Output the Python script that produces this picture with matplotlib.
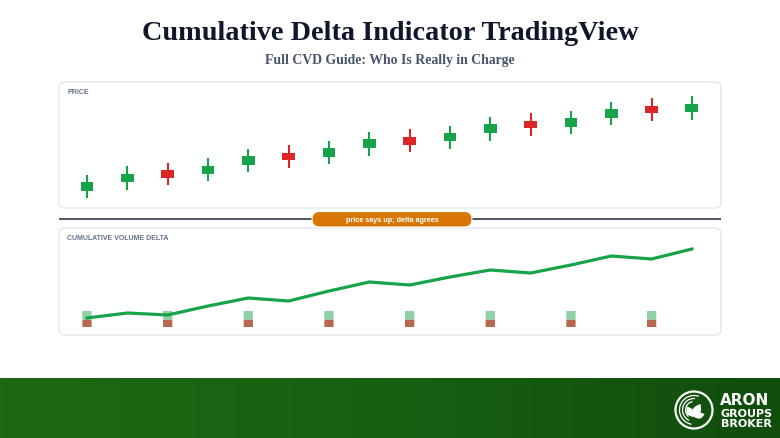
"""
Cumulative Delta (CVD) chart: price candles on top, CVD line below
"""

import numpy as np
import matplotlib.pyplot as plt
from matplotlib.patches import FancyBboxPatch, Circle, Arc, Polygon
from matplotlib.colors import LinearSegmentedColormap

# candle data (arbitrary price units)
opens = [28, 37, 49, 45, 54, 66, 62, 71, 82, 78, 86, 98, 92, 101, 113, 107]
closes = [37, 45, 41, 53, 63, 59, 71, 80, 74, 86, 95, 91, 101, 110, 106, 115]
highs = [44, 53, 56, 61, 70, 74, 78, 87, 90, 93, 102, 106, 108, 117, 121, 123]
lows = [21, 29, 34, 38, 47, 51, 55, 63, 67, 70, 78, 83, 85, 94, 98, 99]

# cumulative volume delta
cvd = [17, 22, 20, 29, 37, 34, 44, 53, 50, 58, 65, 62, 70, 79, 76, 86]

# volume bars (every second bar)
vol_idx = [0, 2, 4, 6, 8, 10, 12, 14]
buy_vol = [8.5, 8.5, 8.5, 8.5, 8.5, 8.5, 8.5, 8.5]
sell_vol = [7.5, 7.5, 7.5, 7.5, 7.5, 7.5, 7.5, 7.5]

title = "Cumulative Delta Indicator TradingView"
subtitle = "Full CVD Guide: Who Is Really in Charge"
badge = "price says up; delta agrees"

GREEN = "#16a34a"
RED = "#dc2626"
W, H = 780, 439

fig = plt.figure(figsize=(W / 100, H / 100), dpi=100)
fig.patch.set_facecolor("white")

# background layer in pixel coordinates
bg = fig.add_axes([0, 0, 1, 1])
bg.axis("off")


def panel(x0, y0, x1, y1):
    bg.add_patch(FancyBboxPatch((x0, y0), x1 - x0, y1 - y0,
                                boxstyle="round,pad=0,rounding_size=6",
                                facecolor="white", edgecolor="#e2e8f0", lw=1.0))


def leaf(x0, y0, length, width, angle):
    # simple pointed leaf polygon
    t = np.linspace(0, 1, 30)
    half = width / 2 * np.sin(np.pi * t)
    xs = np.concatenate([t * length, (t * length)[::-1]])
    ys = np.concatenate([half, -half[::-1]])
    a = np.radians(angle)
    px = x0 + xs * np.cos(a) - ys * np.sin(a)
    py = y0 - (xs * np.sin(a) + ys * np.cos(a))
    bg.add_patch(Polygon(np.column_stack([px, py]), closed=True,
                         facecolor="white", edgecolor="none", zorder=3))


panel(59, 83, 721, 209)
panel(59, 229, 721, 336)

bg.text(W / 2, 33, title, ha="center", va="center", fontsize=20.3,
        fontweight="bold", family="Liberation Serif", color="#0f172a")
bg.text(W / 2, 60.5, subtitle, ha="center", va="center", fontsize=9.9,
        fontweight="bold", family="Liberation Serif", color="#475569")

bg.text(67, 93, "PRICE", ha="left", va="center", fontsize=5,
        fontweight="bold", family="Liberation Sans", color="#64748b")
bg.text(67, 239, "CUMULATIVE VOLUME DELTA", ha="left", va="center", fontsize=5,
        fontweight="bold", family="Liberation Sans", color="#64748b")

# divider + badge
bg.plot([59, 721], [220, 220], color="#3f4856", lw=1.3,
        solid_capstyle="butt", zorder=2)
bg.add_patch(FancyBboxPatch((312, 212.5), 160, 15.5,
                            boxstyle="round,pad=0,rounding_size=7.7",
                            facecolor="#d97706", edgecolor="white", lw=0.8,
                            zorder=3))
bg.text(392, 220.5, badge, ha="center", va="center", fontsize=5.2,
        fontweight="bold", family="Liberation Sans", color="white", zorder=4)

# footer band
grad = np.linspace(0, 1, 256).reshape(1, -1)
cmap = LinearSegmentedColormap.from_list("foot", ["#1b6a13", "#176012", "#114d0d"])
bg.imshow(grad, extent=[0, W, H, 379], cmap=cmap, aspect="auto", zorder=1)
bg.set_xlim(0, W)
bg.set_ylim(H, 0)

# logo
cx, cy = 694, 411
bg.add_patch(Circle((cx, cy), 18.5, facecolor="none", edgecolor="white",
                    lw=1.6, zorder=3))
for r, t1, t2 in [(14.5, 100, 290), (11.5, 115, 275), (8.5, 130, 260)]:
    bg.add_patch(Arc((cx, cy), 2 * r, 2 * r, theta1=t1, theta2=t2,
                     color="white", lw=0.9, zorder=3))
leaf(cx - 1, cy + 7, 15, 8, 60)
leaf(cx - 1, cy + 7, 12, 7, 120)
leaf(cx, cy + 7, 11, 6, 15)

bg.text(720, 405, "ARON", ha="left", va="baseline", fontsize=11,
        fontweight="bold", family="DejaVu Sans", color="white", zorder=3)
bg.text(720.5, 427, "GROUPS\nBROKER", ha="left", va="baseline", fontsize=8,
        fontweight="bold", family="DejaVu Sans", color="white",
        linespacing=1.05, zorder=3)

# x positions shared by both panels
x = np.arange(len(opens))
step = 40.33
x_lo = (59 - 87) / step
x_hi = (721 - 87) / step

# price panel
ax1 = fig.add_axes([59 / W, 1 - 209 / H, 662 / W, 126 / H])
ax1.patch.set_alpha(0)
ax1.axis("off")
ax1.set_xlim(x_lo, x_hi)
ax1.set_ylim(11, 137)
colors = [GREEN if c >= o else RED for o, c in zip(opens, closes)]
ax1.vlines(x, lows, highs, colors=colors, lw=1.5)
bottoms = [min(o, c) for o, c in zip(opens, closes)]
heights = [abs(c - o) for o, c in zip(opens, closes)]
ax1.bar(x, heights, bottom=bottoms, width=0.32, color=colors, zorder=3)

# cvd panel
ax2 = fig.add_axes([59 / W, 1 - 336 / H, 662 / W, 107 / H])
ax2.patch.set_alpha(0)
ax2.axis("off")
ax2.set_xlim(x_lo, x_hi)
ax2.set_ylim(0, 107)
base = 8
ax2.bar(vol_idx, sell_vol, bottom=base, width=0.23, color="#b3684f",
        zorder=2, snap=False)
ax2.bar(vol_idx, buy_vol, bottom=[base + s for s in sell_vol], width=0.23,
        color="#8fd1a6", zorder=2, snap=False)
ax2.plot(x, cvd, color=GREEN, lw=2.3, solid_joinstyle="round", zorder=3)

fig.savefig("out.png", dpi=100)
